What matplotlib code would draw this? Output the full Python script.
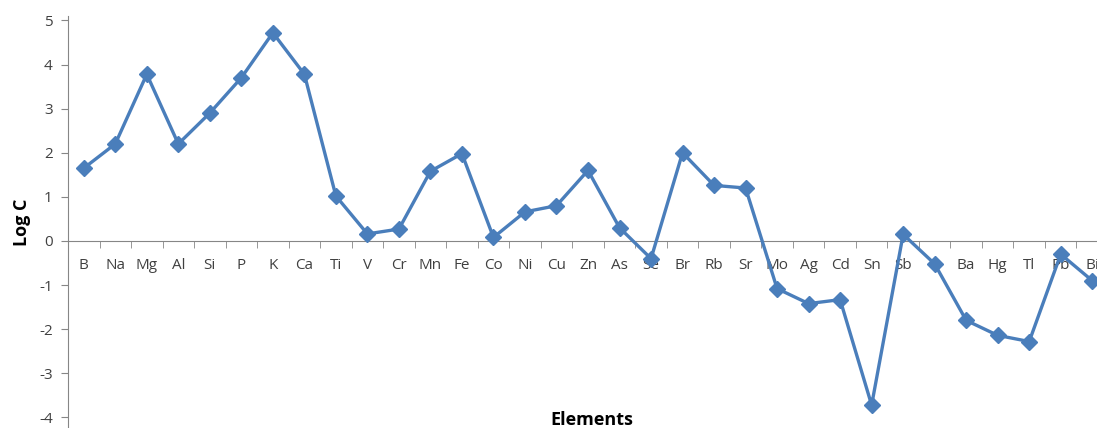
import matplotlib
matplotlib.use("Agg")
import matplotlib.pyplot as plt
from matplotlib.ticker import FixedLocator

elements = ["B", "Na", "Mg", "Al", "Si", "P", "K", "Ca", "Ti", "V", "Cr", "Mn", "Fe",
            "Co", "Ni", "Cu", "Zn", "As", "Se", "Br", "Rb", "Sr", "Mo", "Ag", "Cd",
            "Sn", "Sb", "I", "Ba", "Hg", "Tl", "Pb", "Bi"]
log_c = [1.65, 2.2, 3.78, 2.2, 2.9, 3.7, 4.72, 3.78, 1.02, 0.16, 0.27, 1.58, 1.98,
         0.08, 0.66, 0.8, 1.6, 0.3, -0.4, 2.0, 1.26, 1.2, -1.08, -1.42, -1.33,
         -3.72, 0.15, -0.52, -1.8, -2.14, -2.28, -0.3, -0.9]
y_ticks = [-4, -3, -2, -1, 0, 1, 2, 3, 4, 5]

W, H = 1097, 428
fig = plt.figure(figsize=(W / 100, H / 100), dpi=100)
plt.rcParams['font.family'] = ['Open Sans', 'DejaVu Sans']

left_px, right_px, top_px = 68, 1108, 16
ax = fig.add_axes([left_px / W, 0, (right_px - left_px) / W, (H - top_px) / H])
x = list(range(len(elements)))
ax.plot(x, log_c, color="#4A7EBB", lw=2.4, marker="D", ms=8,
        markeredgecolor="#4A7EBB", zorder=4, clip_on=False)

ax.set_xlim(-0.5, len(elements) - 0.5)
ax.set_ylim(-4.24, 5.1)

gray = "#868686"
for s in ["top", "right"]:
    ax.spines[s].set_visible(False)
ax.spines["left"].set_color(gray)
ax.spines["bottom"].set_color(gray)
ax.spines["bottom"].set_position(("data", 0))

ax.set_yticks(y_ticks)
ax.set_yticklabels([str(v) for v in y_ticks])
ax.tick_params(axis="y", direction="out", length=5, color=gray, labelsize=11,
               labelcolor="#404040", pad=6)

ax.set_xticks(x)
ax.set_xticklabels(elements)
ax.xaxis.set_minor_locator(FixedLocator([i + 0.5 for i in range(-1, len(elements))]))
ax.tick_params(axis="x", which="major", length=0, labelsize=11, labelcolor="#404040", pad=12)
ax.tick_params(axis="x", which="minor", length=5, direction="out", color=gray)
for lab in ax.get_xticklabels():
    lab.set_zorder(1)

fig.text(22 / W, 1 - 222 / H, "Log C", rotation=90, ha="center", va="center",
         fontsize=13, fontweight="bold", color="#000000")
fig.text(592 / W, 1 - 420 / H, "Elements", ha="center", va="center",
         fontsize=13, fontweight="bold", color="#000000")

fig.savefig("out.png", dpi=100)
